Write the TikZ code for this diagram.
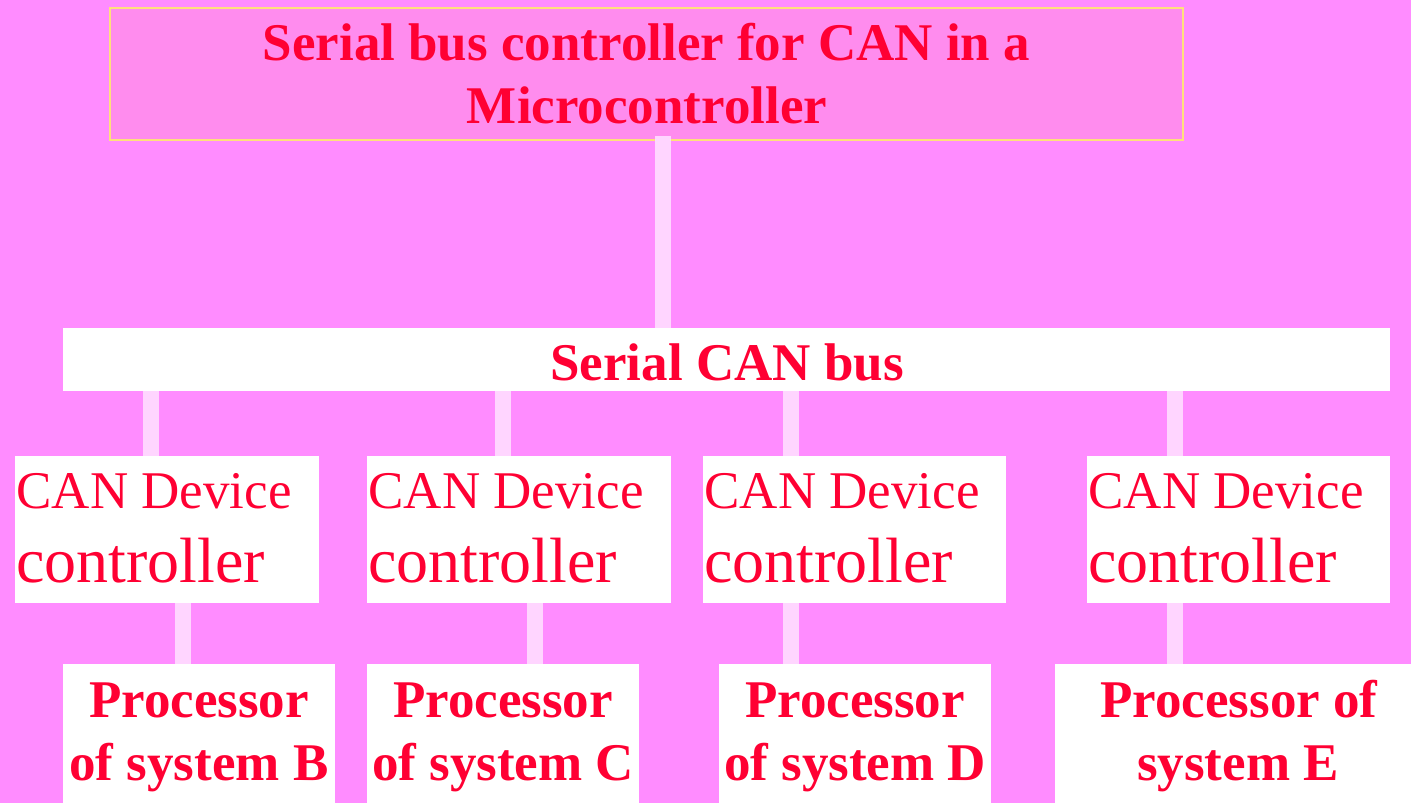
\documentclass[tikz,border=0pt]{standalone}
\usepackage{fontspec}
\setmainfont{Liberation Serif}
\definecolor{bgpink}{HTML}{FF8CFF}
\definecolor{toppink}{HTML}{FF8CEE}
\definecolor{topedge}{HTML}{FFE07C}
\definecolor{linkpink}{HTML}{FFD5FF}
\definecolor{txtred}{HTML}{FF0033}
\tikzset{
  whitebox/.style={fill=white, draw=none, inner sep=0pt, outer sep=0pt},
  topbox/.style={fill=toppink, draw=topedge, line width=0.6pt, inner sep=0pt, outer sep=0pt},
  link/.style={draw=linkpink, line width=8pt},
  boldtxt/.style={text=txtred, font=\fontsize{26.5}{30}\selectfont\bfseries, inner sep=0pt, anchor=base},
  smalltxt/.style={text=txtred, font=\fontsize{26.5}{30}\selectfont, inner sep=0pt, anchor=base west},
  bigtxt/.style={text=txtred, font=\fontsize{32}{36}\selectfont, inner sep=0pt, anchor=base west}
}
\begin{document}
\begin{tikzpicture}[x=0.5pt,y=-0.5pt]
\useasboundingbox (0,0) rectangle (1411,803);
\fill[bgpink] (0,0) rectangle (1411,803);
% boxes
\node[topbox, minimum width=536.5pt, minimum height=66pt] (top) at (646.5,74) {};
\node[whitebox, minimum width=663.5pt, minimum height=31.5pt] (bus) at (726.5,359.5) {};
\node[whitebox, minimum width=152pt, minimum height=73.5pt] (dev1) at (167,529.5) {};
\node[whitebox, minimum width=152pt, minimum height=73.5pt] (dev2) at (519,529.5) {};
\node[whitebox, minimum width=151.5pt, minimum height=73.5pt] (dev3) at (854.5,529.5) {};
\node[whitebox, minimum width=151.5pt, minimum height=73.5pt] (dev4) at (1238.5,529.5) {};
\node[whitebox, minimum width=136pt, minimum height=69.5pt] (procB) at (199,733.5) {};
\node[whitebox, minimum width=136pt, minimum height=69.5pt] (procC) at (503,733.5) {};
\node[whitebox, minimum width=136pt, minimum height=69.5pt] (procD) at (855,733.5) {};
\node[whitebox, minimum width=178pt, minimum height=69.5pt] (procE) at (1233,733.5) {};
% connector x positions
\coordinate (xt) at (663,0);
\coordinate (xa) at (151,0);
\coordinate (xb) at (503,0);
\coordinate (xc) at (791,0);
\coordinate (xd) at (1175,0);
\coordinate (xB) at (183,0);
\coordinate (xC) at (535,0);
\coordinate (xD) at (791,0);
\coordinate (xE) at (1175,0);
% connectors
\draw[link] ([yshift=2pt]top.south -| xt) -- (bus.north -| xt);
\draw[link] (bus.south -| xa) -- (dev1.north -| xa);
\draw[link] (bus.south -| xb) -- (dev2.north -| xb);
\draw[link] (bus.south -| xc) -- (dev3.north -| xc);
\draw[link] (bus.south -| xd) -- (dev4.north -| xd);
\draw[link] (dev1.south -| xB) -- (procB.north -| xB);
\draw[link] (dev2.south -| xC) -- (procC.north -| xC);
\draw[link] (dev3.south -| xD) -- (procD.north -| xD);
\draw[link] (dev4.south -| xE) -- (procE.north -| xE);
% texts
\node[boldtxt] (t1) at (646.5,60) {Serial bus controller for CAN in a};
\node[boldtxt] (t2) at (647,123) {Microcontroller};
\node[boldtxt] (tbus) at (727,380) {Serial CAN bus};
\foreach \n/\x in {d1/16,d2/368,d3/704,d4/1088}{
  \node[smalltxt] (\n a) at (\x,508) {CAN Device};
  \node[bigtxt] (\n b) at (\x,582) {controller};
}
\node[boldtxt] (pb1) at (199,717) {Processor};
\node[boldtxt] (pb2) at (199,780) {of system B};
\node[boldtxt] (pc1) at (503,717) {Processor};
\node[boldtxt] (pc2) at (503,780) {of system C};
\node[boldtxt] (pd1) at (855,717) {Processor};
\node[boldtxt] (pd2) at (855,780) {of system D};
\node[boldtxt] (pe1) at (1239,717) {Processor of};
\node[boldtxt] (pe2) at (1238,780) {system E};
\end{tikzpicture}
\end{document}
